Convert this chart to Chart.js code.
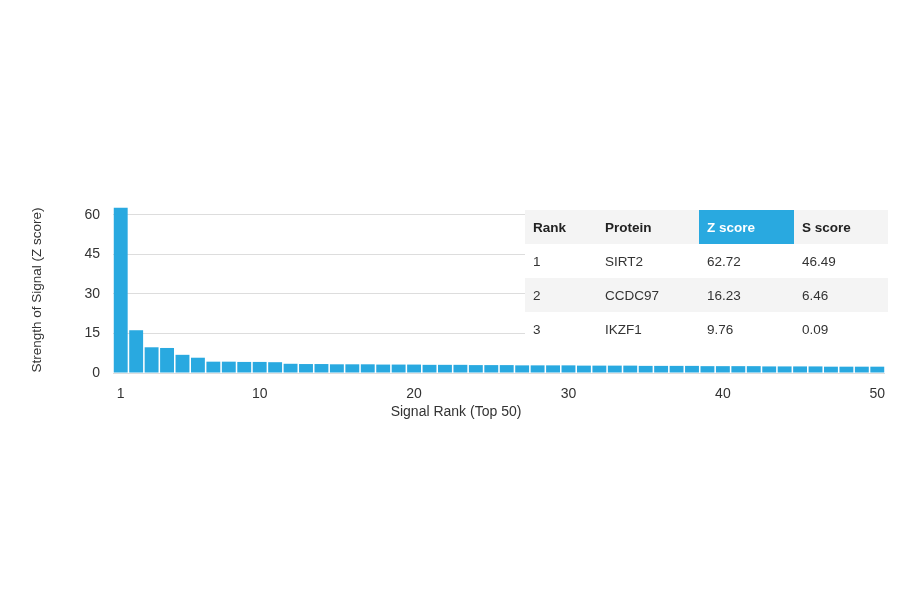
<!DOCTYPE html>
<html><head><meta charset="utf-8">
<script src="https://cdn.jsdelivr.net/npm/chart.js@4"></script>
<style>
body{margin:0;background:#fff;font-family:"Liberation Sans",Arial,sans-serif;}
#wrap{position:relative;width:900px;height:594px;}
#tbl{position:absolute;left:525px;top:210px;width:363px;border-collapse:collapse;font-size:13.5px;color:#333;table-layout:fixed;}
#tbl td{height:34px;padding:0 0 0 8px;background:#fff;}
#tbl tr.g td{background:#f4f4f4;}
#tbl tr.h td{font-weight:bold;color:#222;}
#tbl td.z{background:#29a9e0!important;color:#fff!important;}
</style></head><body>
<div id="wrap"><canvas id="c" width="900" height="594"></canvas>
<table id="tbl"></table></div>
<script>
const ranks=[];for(let i=1;i<=50;i++)ranks.push(String(i));
const zScores=[62.72,16.23,9.76,9.5,6.9,5.8,4.3,4.3,4.2,4.2,4.1,3.5,3.4,3.4,3.3,3.3,3.3,3.2,3.2,3.2,3.1,3.1,3.1,3.0,3.0,3.0,2.9,2.9,2.9,2.9,2.8,2.8,2.8,2.8,2.7,2.7,2.7,2.7,2.6,2.6,2.6,2.6,2.5,2.5,2.5,2.5,2.4,2.4,2.4,2.4];
const xTickShown=["1","10","20","30","40","50"];
const yTicks=[0,15,30,45,60];
const tableHeader=["Rank","Protein","Z score","S score"];
const tableRows=[["1","SIRT2","62.72","46.49"],["2","CCDC97","16.23","6.46"],["3","IKZF1","9.76","0.09"]];
const widths=[72,102,95,94];
let html='<tr class="g h">'+tableHeader.map((h,i)=>`<td style="width:${widths[i]-8}px" class="${i==2?'z':''}">${h}</td>`).join('')+'</tr>';
tableRows.forEach((r,k)=>{html+=`<tr class="${k==1?'g':''}">`+r.map(v=>`<td>${v}</td>`).join('')+'</tr>';});
document.getElementById('tbl').innerHTML=html;
const font={family:'"Liberation Sans",Arial,sans-serif',size:14};
const xTitle={id:'xTitle',afterDraw(ch){const c=ch.ctx;c.save();c.fillStyle='#333';c.font='14px "Liberation Sans",Arial,sans-serif';c.textAlign='center';c.textBaseline='middle';c.fillText('Signal Rank (Top 50)',456,412);c.restore();}};
new Chart(document.getElementById('c'),{type:'bar',
data:{labels:ranks,datasets:[{data:zScores,backgroundColor:'#29a9e0',categoryPercentage:1,barPercentage:0.9}]},
plugins:[xTitle],
options:{responsive:false,animation:false,events:[],
layout:{padding:{left:25,right:15,top:207,bottom:171}},
plugins:{legend:{display:false},tooltip:{enabled:false}},
scales:{
x:{grid:{display:false},border:{display:false},
 afterFit:s=>{s.height=50;},
 ticks:{autoSkip:false,maxRotation:0,color:'#333',font,padding:5,
  callback:function(v){const l=this.getLabelForValue(v);return xTickShown.includes(l)?l:'';}},
 title:{display:false}},
y:{min:0,max:63,afterFit:s=>{s.width=88;},
 afterBuildTicks:s=>{s.ticks=yTicks.map(v=>({value:v}));},
 grid:{color:'#dddddd',drawTicks:false},border:{display:false},
 ticks:{color:'#333',font,padding:13},
 title:{display:true,text:'Strength of Signal (Z score)',color:'#333',font:{family:font.family,size:13.5}}}
}}});
</script></body></html>
